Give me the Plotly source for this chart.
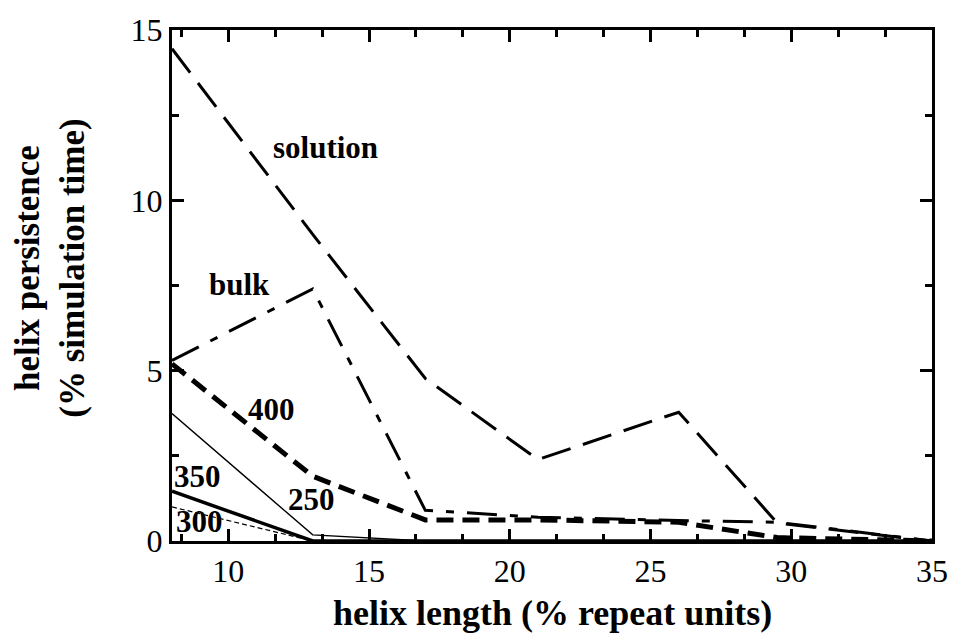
import plotly.graph_objects as go

# helix length (% repeat units)
helix_length = [8, 13, 17, 21, 26, 29.5, 35]

# helix persistence (% simulation time) per series
solution = [14.45, 9.0, 4.77, 2.39, 3.78, 0.53, 0.0]
bulk = [5.3, 7.4, 0.9, 0.7, 0.6, 0.55, 0.0]
t400 = [5.2, 1.9, 0.62, 0.62, 0.55, 0.1, 0.0]
t250 = [3.74, 0.18, 0.0, 0.0, 0.0, 0.0, 0.0]
t350 = [1.46, 0.0, 0.0, 0.0, 0.0, 0.0, 0.0]
t300 = [1.0, 0.0, 0.0, 0.0, 0.0, 0.0, 0.0]

x_ticks = [10, 15, 20, 25, 30, 35]
y_ticks = [0, 5, 10, 15]

series = [
    ("solution", solution, dict(width=3, dash="30px,13px")),
    ("bulk", bulk, dict(width=3, dash="30px,13px,8px,13px")),
    ("400", t400, dict(width=5, dash="17px,9px")),
    ("250", t250, dict(width=1.4)),
    ("350", t350, dict(width=3.5)),
    ("300", t300, dict(width=1.2, dash="5px,3px")),
]

fig = go.Figure()
for name, ys, style in series:
    fig.add_trace(go.Scatter(x=helix_length, y=ys, mode="lines", name=name,
                             line=dict(color="black", **style), showlegend=False))

FONT = "Liberation Serif, Times New Roman, serif"

labels = [
    ("solution", 13.47, 11.56),
    ("bulk", 10.39, 7.52),
    ("400", 11.55, 3.86),
    ("350", 8.89, 1.90),
    ("250", 12.94, 1.23),
    ("300", 8.96, 0.56),
]
for text, lx, ly in labels:
    fig.add_annotation(x=lx, y=ly, text="<b>%s</b>" % text, showarrow=False,
                       xanchor="center", yanchor="middle",
                       font=dict(family=FONT, size=31, color="black"))

# axis titles
fig.add_annotation(xref="paper", yref="paper", x=0.5, y=-0.14,
                   text="<b>helix length (% repeat units)</b>", showarrow=False,
                   xanchor="center", yanchor="middle",
                   font=dict(family=FONT, size=36, color="black"))
fig.add_annotation(xref="paper", yref="paper", x=-0.161, y=0.534,
                   text="<b>helix persistence<br>(% simulation time)</b>", showarrow=False,
                   textangle=-90, xanchor="center", yanchor="middle",
                   font=dict(family=FONT, size=35, color="black"))

axis_common = dict(
    showline=True, linewidth=3, linecolor="black", mirror="allticks",
    ticks="inside", tickwidth=2.5, tickcolor="black", ticklen=12,
    showgrid=False, zeroline=False,
    tickfont=dict(family=FONT, size=32, color="black"),
)

fig.update_xaxes(range=[8, 35], tickvals=x_ticks,
                 minor=dict(ticks="inside", ticklen=7, tickwidth=2.5, tickcolor="black",
                            dtick=5/3, tick0=0, showgrid=False),
                 **axis_common)
fig.update_yaxes(range=[0, 15], tickvals=y_ticks,
                 minor=dict(ticks="inside", ticklen=7, tickwidth=2.5, tickcolor="black",
                            dtick=2.5, tick0=0, showgrid=False),
                 **axis_common)

fig.update_layout(
    width=960, height=637,
    margin=dict(l=172, r=16, t=28, b=96),
    plot_bgcolor="white", paper_bgcolor="white",
)

fig.write_html("out.html")
